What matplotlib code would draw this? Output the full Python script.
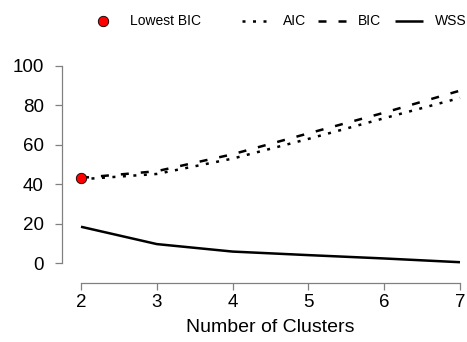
import matplotlib
matplotlib.use('Agg')
import matplotlib.pyplot as plt
from matplotlib.lines import Line2D

plt.rcParams['font.family'] = ['Liberation Sans', 'DejaVu Sans']

clusters = [2, 3, 4, 5, 6, 7]
aic = [42.5, 45.2, 53.0, 63.0, 73.5, 83.8]
bic = [43.2, 46.6, 55.2, 65.8, 76.3, 87.5]
wss = [18.4, 9.6, 5.8, 4.0, 2.3, 0.4]
y_ticks = [0, 20, 40, 60, 80, 100]

best = bic.index(min(bic))

W, H = 467, 342
fig = plt.figure(figsize=(W / 100, H / 100), dpi=100)
ax = fig.add_axes([81 / W, 79 / H, (460 - 81) / W, (263 - 66) / H])

lw = 1.8
dot_style = (1.2, 3.0)
dash_style = (3.2, 4.8)
ax.plot(clusters, aic, color='black', lw=lw, dashes=dot_style, clip_on=False)
ax.plot(clusters, bic, color='black', lw=lw, dashes=dash_style, clip_on=False)
ax.plot(clusters, wss, color='black', lw=lw, solid_capstyle='butt', clip_on=False)
ax.plot(clusters[best], bic[best], 'o', ms=7.5, mfc='red', mec='black', mew=0.6,
        clip_on=False, zorder=5)

ax.set_xlim(2, 7)
ax.set_ylim(0, 100)
ax.set_xticks(clusters)
ax.set_yticks(y_ticks)

for s in ['top', 'right']:
    ax.spines[s].set_visible(False)
ax.spines['left'].set_position(('outward', 13.7))
ax.spines['bottom'].set_position(('outward', 14.4))
ax.spines['left'].set_bounds(0, 100)
ax.spines['bottom'].set_bounds(2, 7)
for s in ['left', 'bottom']:
    ax.spines[s].set_color('#808080')
    ax.spines[s].set_linewidth(0.9)
ax.tick_params(axis='both', colors='#808080', labelcolor='black', length=5,
               width=0.9, labelsize=13.5)
ax.tick_params(axis='y', pad=8)
ax.tick_params(axis='x', pad=3)

ax.set_xlabel('Number of Clusters', fontsize=14, labelpad=6)

# legend across the top, laid out in figure pixels
def fx(px):
    return px / W

ly = 1 - 21 / H
fig.add_artist(Line2D([fx(103)], [ly], marker='o', ls='none', ms=7.5, mfc='red',
                      mec='black', mew=0.6, transform=fig.transFigure))
fig.text(fx(130), ly, 'Lowest BIC', fontsize=10, va='center', ha='left')

legend_items = [('AIC', dot_style, 242, 283),
                ('BIC', dash_style, 318, 358),
                ('WSS', None, 395, 435)]
for name, style, x0, tx in legend_items:
    kw = dict(color='black', lw=lw, transform=fig.transFigure)
    if style is not None:
        kw['dashes'] = style
    else:
        kw['solid_capstyle'] = 'butt'
    fig.add_artist(Line2D([fx(x0), fx(x0 + 28)], [ly, ly], **kw))
    fig.text(fx(tx), ly, name, fontsize=10, va='center', ha='left')

fig.savefig('out.png', dpi=100)
